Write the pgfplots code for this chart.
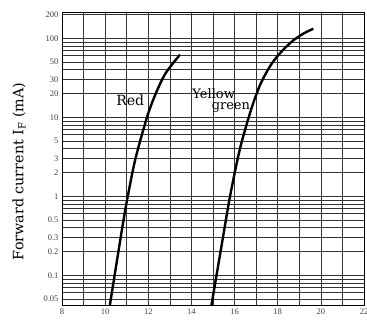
\documentclass[border=0pt]{standalone}
\usepackage{pgfplots}
\pgfplotsset{compat=1.18}
\usepackage{fontspec}
\setmainfont{DejaVu Serif}
\newfontfamily\tickfont{Liberation Serif}
\begin{document}
\begin{tikzpicture}
\begin{axis}[
  scale only axis,
  width=302pt, height=293pt,
  xmin=8, xmax=22,
  ymode=log, ymin=0.042, ymax=215,
  xtick={8,10,...,22},
  minor x tick num=1,
  ytick={0.05,0.1,0.2,0.3,0.5,1,2,3,5,10,20,30,50,100,200},
  yticklabels={0.05,0.1,0.2,0.3,0.5,1,2,3,5,10,20,30,50,100,200},
  minor ytick={0.06,0.07,0.08,0.09,0.4,0.6,0.7,0.8,0.9,4,6,7,8,9,40,60,70,80,90},
  grid=both,
  major grid style={black!80, line width=0.6pt},
  minor grid style={black!80, line width=0.6pt},
  major tick length=0pt, minor tick length=0pt,
  axis line style={black, line width=0.8pt},
  tick label style={font=\tickfont\fontsize{8.5}{9}\selectfont, text=black!75},
  /pgf/number format/assume math mode=true,
  ylabel={Forward current I\textsubscript{F} (mA)},
  ylabel style={font=\fontsize{14.3}{16}\selectfont, at={(axis description cs:-0.142,0.456)}, anchor=center},
  clip=false,
]
\addplot[black, line width=2.4pt, smooth] coordinates {
  (10.22,0.042) (10.8,0.41) (11.05,1.0) (11.4,2.95) (11.94,10) (12.33,19.5) (12.8,36) (13.47,62)
};
\addplot[black, line width=2.4pt, smooth] coordinates {
  (14.93,0.042) (15.4,0.24) (15.79,1.0) (16.25,4.0) (16.77,12.6) (17.2,26.3) (17.7,46.8) (18.2,69) (18.7,93) (19.2,115) (19.65,132)
};
\node[font=\fontsize{14}{14}\selectfont, anchor=base, inner sep=0pt] at (axis cs:11.16,14.2) {Red};
\node[font=\fontsize{13}{13}\selectfont, anchor=base, inner sep=0pt] at (axis cs:15.03,17.4) {Yellow};
\node[font=\fontsize{13}{13}\selectfont, anchor=base, inner sep=0pt] at (axis cs:15.83,12.6) {green};
\coordinate (bl) at (axis description cs:-0.2053,-0.0614);
\coordinate (tr) at (axis description cs:1.0099,1.041);
\end{axis}
\pgfresetboundingbox
\path[use as bounding box] (bl) rectangle (tr);
\end{tikzpicture}
\end{document}
